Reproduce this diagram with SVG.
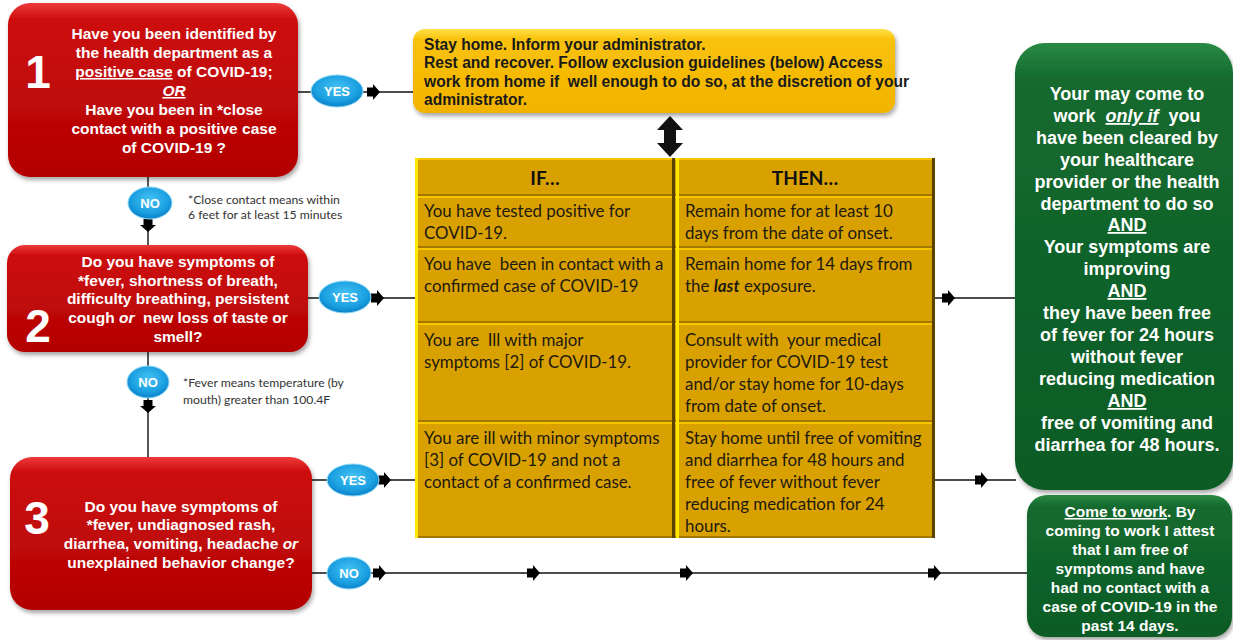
<svg xmlns="http://www.w3.org/2000/svg" width="1233" height="640" viewBox="0 0 1233 640">
<defs>
<linearGradient id="gRed" x1="0" y1="0" x2="0" y2="1">
<stop offset="0" stop-color="#ee3a3a"/>
<stop offset="0.1" stop-color="#cc0c0c"/>
<stop offset="1" stop-color="#b30303"/>
</linearGradient>
<linearGradient id="gYel" x1="0" y1="0" x2="0" y2="1">
<stop offset="0" stop-color="#ffe04a"/>
<stop offset="0.12" stop-color="#f9c20a"/>
<stop offset="1" stop-color="#f2b300"/>
</linearGradient>
<linearGradient id="gGrn" x1="0" y1="0" x2="0" y2="1">
<stop offset="0" stop-color="#2a8a44"/>
<stop offset="0.08" stop-color="#136a2f"/>
<stop offset="1" stop-color="#0e5b26"/>
</linearGradient>
<radialGradient id="gBlue" cx="0.5" cy="0.4" r="0.6">
<stop offset="0" stop-color="#45c2f4"/>
<stop offset="0.7" stop-color="#1a9fe0"/>
<stop offset="1" stop-color="#0a80c8"/>
</radialGradient>
<filter id="sh" x="-10%" y="-10%" width="120%" height="125%">
<feDropShadow dx="1.5" dy="3" stdDeviation="2" flood-color="#000" flood-opacity="0.35"/>
</filter>
<path id="ar" d="M-6,-4.5 L0,-4.5 L0,-8 L7,0 L0,8 L0,4.5 L-6,4.5 Z"/>
<style>
.q{font-family:"Liberation Sans",Arial,sans-serif;font-weight:bold;font-size:15.5px;fill:#fff;text-anchor:middle}
.num{font-family:"Liberation Sans",Arial,sans-serif;font-weight:bold;font-size:46px;fill:#fff;text-anchor:middle}
.g{font-family:"Liberation Sans",Arial,sans-serif;font-weight:bold;font-size:18px;fill:#fff;text-anchor:middle}
.g2{font-family:"Liberation Sans",Arial,sans-serif;font-weight:bold;font-size:15.5px;fill:#fff;text-anchor:middle}
.y{font-family:"Liberation Sans",Arial,sans-serif;font-weight:bold;font-size:15.6px;fill:#1a1a1a}
.t{font-family:Lato,"Liberation Sans",sans-serif;font-size:16.9px;fill:#1e1a10}
.th{font-family:Lato,"Liberation Sans",sans-serif;font-weight:bold;font-size:19px;fill:#111;text-anchor:middle}
.note{font-family:Lato,"Liberation Sans",sans-serif;font-size:12.2px;fill:#333}
.ov{fill:url(#gBlue);stroke:#8dd8f7;stroke-width:1}
.ovt{font-family:"Liberation Sans",Arial,sans-serif;font-weight:bold;font-size:13px;fill:#fff;text-anchor:middle}
.ln{stroke:#111;stroke-width:1.4;fill:none}
.u{text-decoration:underline}
.i{font-style:italic}
.lt{stroke:#ffe800;stroke-width:3}
.tp{stroke:#f7c400;stroke-width:2}
.dk{stroke:#5a4200;stroke-width:3}
.bt{stroke:#a47800;stroke-width:2}
</style>
</defs>
<rect width="1233" height="640" fill="#fff"/>

<g id="connectors">
<line class="ln" x1="297" y1="92" x2="414" y2="92"/>
<line class="ln" x1="148" y1="177" x2="148" y2="245"/>
<line class="ln" x1="148" y1="352" x2="148" y2="458"/>
<line class="ln" x1="308" y1="298" x2="415" y2="298"/>
<line class="ln" x1="935" y1="298" x2="1016" y2="298"/>
<line class="ln" x1="312" y1="480" x2="415" y2="480"/>
<line class="ln" x1="935" y1="480" x2="1016" y2="480"/>
<line class="ln" x1="312" y1="573" x2="1028" y2="573"/>
<use href="#ar" x="373" y="92"/>
<use href="#ar" transform="translate(148,225) rotate(90)"/>
<use href="#ar" x="377" y="298"/>
<use href="#ar" transform="translate(148,406) rotate(90)"/>
<use href="#ar" x="948" y="298"/>
<use href="#ar" x="384" y="480"/>
<use href="#ar" x="981" y="480"/>
<use href="#ar" x="379" y="573"/>
<use href="#ar" x="533" y="573"/>
<use href="#ar" x="686" y="573"/>
<use href="#ar" x="934" y="573"/>
<path d="M670,116 L683,130 L676,130 L676,143 L683,143 L670,157 L657,143 L664,143 L664,130 L657,130 Z" fill="#111"/>
</g>

<g id="q1">
<rect x="8" y="3" width="290" height="174" rx="22" fill="url(#gRed)" filter="url(#sh)"/>
<text class="num" x="38" y="88">1</text>
<text class="q" x="174" y="39">Have you been identified by</text>
<text class="q" x="174" y="58">the health department as a</text>
<text class="q" x="174" y="77"><tspan class="u">positive case</tspan> of COVID-19;</text>
<text class="q" x="174" y="96"><tspan class="u i">OR</tspan></text>
<text class="q" x="174" y="115">Have you been in *close</text>
<text class="q" x="174" y="134">contact with a positive case</text>
<text class="q" x="174" y="153">of COVID-19 ?</text>
</g>

<g id="q2">
<rect x="7" y="245" width="301" height="107" rx="18" fill="url(#gRed)" filter="url(#sh)"/>
<text class="num" x="38" y="342">2</text>
<text class="q" x="178" y="267">Do you have symptoms of</text>
<text class="q" x="178" y="286">*fever, shortness of breath,</text>
<text class="q" x="178" y="304">difficulty breathing, persistent</text>
<text class="q" x="178" y="323" xml:space="preserve">cough <tspan class="i">or</tspan>  new loss of taste or</text>
<text class="q" x="178" y="342">smell?</text>
</g>

<g id="q3">
<rect x="10" y="457" width="302" height="153" rx="22" fill="url(#gRed)" filter="url(#sh)"/>
<text class="num" x="37" y="534">3</text>
<text class="q" x="181" y="512">Do you have symptoms of</text>
<text class="q" x="181" y="530">*fever, undiagnosed rash,</text>
<text class="q" x="181" y="549">diarrhea, vomiting, headache <tspan class="i">or</tspan></text>
<text class="q" x="181" y="568">unexplained behavior change?</text>
</g>

<g id="stayhome">
<rect x="413" y="29" width="482" height="84" rx="12" fill="url(#gYel)" filter="url(#sh)"/>
<text class="y" x="424" y="50">Stay home. Inform your administrator.</text>
<text class="y" x="424" y="68">Rest and recover. Follow exclusion guidelines (below) Access</text>
<text class="y" x="424" y="87" xml:space="preserve">work from home if  well enough to do so, at the discretion of your</text>
<text class="y" x="424" y="105">administrator.</text>
</g>

<g id="table">
<rect x="415" y="158" width="520" height="380" fill="#d9a100"/>
<g>
<line class="tp" x1="415" y1="159" x2="935" y2="159"/>
<line class="tp" x1="415" y1="197" x2="935" y2="197"/>
<line class="tp" x1="415" y1="249" x2="935" y2="249"/>
<line class="tp" x1="415" y1="324" x2="935" y2="324"/>
<line class="tp" x1="415" y1="423" x2="935" y2="423"/>
<line class="bt" x1="415" y1="195" x2="935" y2="195"/>
<line class="bt" x1="415" y1="247" x2="935" y2="247"/>
<line class="bt" x1="415" y1="322" x2="935" y2="322"/>
<line class="bt" x1="415" y1="421" x2="935" y2="421"/>
<line class="bt" x1="415" y1="537" x2="935" y2="537"/>
<line class="lt" x1="416.5" y1="158" x2="416.5" y2="538"/>
<line class="lt" x1="677.5" y1="158" x2="677.5" y2="538"/>
<line class="dk" x1="673.5" y1="158" x2="673.5" y2="538"/>
<line class="dk" x1="933.5" y1="158" x2="933.5" y2="538"/>
</g>
<text class="th" x="545" y="185">IF…</text>
<text class="th" x="805" y="185">THEN…</text>
<text class="t" x="424" y="217">You have tested positive for</text>
<text class="t" x="424" y="239">COVID-19.</text>
<text class="t" x="685" y="217">Remain home for at least 10</text>
<text class="t" x="685" y="239">days from the date of onset.</text>
<text class="t" x="424" y="270" xml:space="preserve">You have  been in contact with a</text>
<text class="t" x="424" y="292">confirmed case of COVID-19</text>
<text class="t" x="685" y="270">Remain home for 14 days from</text>
<text class="t" x="685" y="292">the <tspan font-weight="bold" font-style="italic">last</tspan> exposure.</text>
<text class="t" x="424" y="346" xml:space="preserve">You are  Ill with major</text>
<text class="t" x="424" y="368">symptoms [2] of COVID-19.</text>
<text class="t" x="685" y="346" xml:space="preserve">Consult with  your medical</text>
<text class="t" x="685" y="368">provider for COVID-19 test</text>
<text class="t" x="685" y="390">and/or stay home for 10-days</text>
<text class="t" x="685" y="412">from date of onset.</text>
<text class="t" x="424" y="444">You are ill with minor symptoms</text>
<text class="t" x="424" y="466">[3] of COVID-19 and not a</text>
<text class="t" x="424" y="488">contact of a confirmed case.</text>
<text class="t" x="685" y="444">Stay home until free of vomiting</text>
<text class="t" x="685" y="466">and diarrhea for 48 hours and</text>
<text class="t" x="685" y="488">free of fever without fever</text>
<text class="t" x="685" y="510">reducing medication for 24</text>
<text class="t" x="685" y="532">hours.</text>
</g>

<g id="mayreturn">
<rect x="1015" y="43" width="218" height="447" rx="30" fill="url(#gGrn)" filter="url(#sh)"/>
<text class="g" x="1127" y="100">Your may come to</text>
<text class="g" x="1127" y="122" xml:space="preserve">work  <tspan class="u i">only if</tspan>  you</text>
<text class="g" x="1127" y="144">have been cleared by</text>
<text class="g" x="1127" y="166">your healthcare</text>
<text class="g" x="1127" y="188">provider or the health</text>
<text class="g" x="1127" y="210">department to do so</text>
<text class="g u" x="1127" y="231">AND</text>
<text class="g" x="1127" y="253">Your symptoms are</text>
<text class="g" x="1127" y="275">improving</text>
<text class="g u" x="1127" y="297">AND</text>
<text class="g" x="1127" y="319">they have been free</text>
<text class="g" x="1127" y="341">of fever for 24 hours</text>
<text class="g" x="1127" y="363">without fever</text>
<text class="g" x="1127" y="385">reducing medication</text>
<text class="g u" x="1127" y="407">AND</text>
<text class="g" x="1127" y="429">free of vomiting and</text>
<text class="g" x="1127" y="451">diarrhea for 48 hours.</text>
</g>

<g id="cometowork">
<rect x="1027" y="495" width="205" height="142" rx="20" fill="url(#gGrn)" filter="url(#sh)"/>
<text class="g2" x="1130" y="517"><tspan class="u">Come to work</tspan>. By</text>
<text class="g2" x="1130" y="536">coming to work I attest</text>
<text class="g2" x="1130" y="555">that I am free of</text>
<text class="g2" x="1130" y="574">symptoms and have</text>
<text class="g2" x="1130" y="593">had no contact with a</text>
<text class="g2" x="1130" y="612">case of COVID-19 in the</text>
<text class="g2" x="1130" y="631">past 14 days.</text>
</g>

<g id="labels">
<ellipse class="ov" cx="337" cy="91" rx="26" ry="16"/>
<text class="ovt" x="337" y="96">YES</text>
<ellipse class="ov" cx="150" cy="203" rx="22" ry="16"/>
<text class="ovt" x="150" y="208">NO</text>
<ellipse class="ov" cx="345" cy="297" rx="26" ry="16"/>
<text class="ovt" x="345" y="302">YES</text>
<ellipse class="ov" cx="148" cy="382" rx="21" ry="16"/>
<text class="ovt" x="148" y="387">NO</text>
<ellipse class="ov" cx="353" cy="480" rx="26" ry="16"/>
<text class="ovt" x="353" y="485">YES</text>
<ellipse class="ov" cx="349" cy="573" rx="22" ry="16"/>
<text class="ovt" x="349" y="578">NO</text>
<text class="note" x="188" y="204">*Close contact means within</text>
<text class="note" x="188" y="219">6 feet for at least 15 minutes</text>
<text class="note" x="183" y="387">*Fever means temperature (by</text>
<text class="note" x="183" y="404">mouth) greater than 100.4F</text>
</g>
</svg>
